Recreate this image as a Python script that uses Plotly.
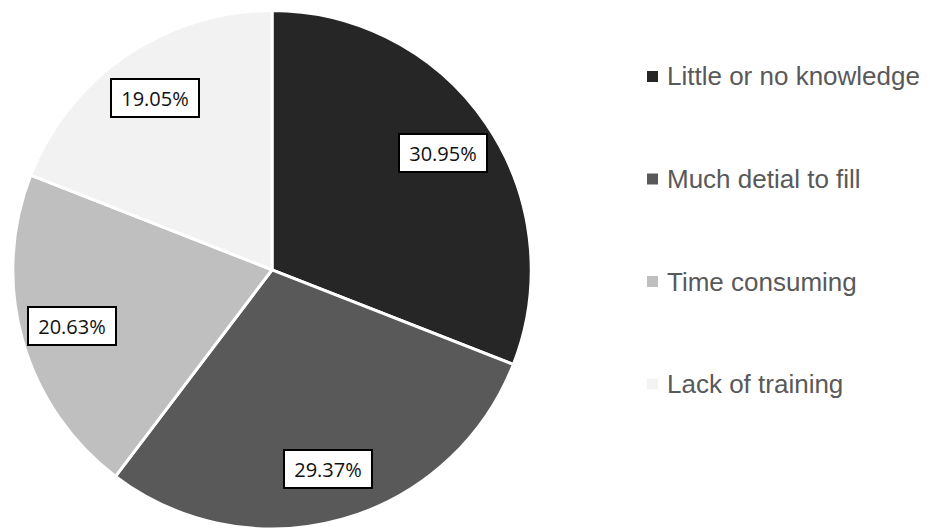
import math
import plotly.graph_objects as go

labels = ["Little or no knowledge", "Much detial to fill", "Time consuming", "Lack of training"]
values = [30.95, 29.37, 20.63, 19.05]
colors = ["#262626", "#595959", "#bfbfbf", "#f2f2f2"]

W, H = 930, 529
dom_x = [0.0, 0.585]
dom_y = [0.0, 0.98]

fig = go.Figure()
fig.add_trace(go.Pie(
    labels=labels, values=values, sort=False, direction="clockwise", rotation=0,
    marker=dict(colors=colors, line=dict(color="white", width=3)),
    textinfo="none", hoverinfo="label+percent", showlegend=False,
    domain=dict(x=dom_x, y=dom_y),
))

# pie geometry in pixels (for placing the boxed labels)
cx = (dom_x[0] + dom_x[1]) / 2 * W
cy = (dom_y[0] + dom_y[1]) / 2 * H
r = min((dom_x[1] - dom_x[0]) * W, (dom_y[1] - dom_y[0]) * H) / 2
total = sum(values)
cum = 0.0
for v in values:
    mid = (cum + v / 2) / total * 2 * math.pi
    cum += v
    px = cx + 0.8 * r * math.sin(mid)
    py = cy + 0.8 * r * math.cos(mid)
    fig.add_annotation(
        x=px / W, y=py / H, xref="paper", yref="paper", showarrow=False,
        xanchor="center", yanchor="middle",
        text=f"{v:.2f}%", font=dict(family="Open Sans, Noto Sans, sans-serif", size=20, color="#111111"),
        bgcolor="white", bordercolor="black", borderwidth=2, borderpad=4,
        width=78, height=28,
    )

# manual legend
leg_y = [76.5, 179, 281.5, 384]
for lab, col, y in zip(labels, colors, leg_y):
    yp = 1 - y / H
    fig.add_shape(type="rect", xref="paper", yref="paper",
                  x0=647 / W, x1=658 / W, y0=yp - 5.5 / H, y1=yp + 5.5 / H,
                  fillcolor=col, line=dict(width=0))
    fig.add_annotation(x=665 / W, y=yp, xref="paper", yref="paper", showarrow=False,
                       xanchor="left", yanchor="middle", text=lab,
                       font=dict(family="Liberation Sans Narrow, Arial Narrow, Liberation Sans, sans-serif",
                                 size=26, color="#595959"))

fig.update_layout(
    width=W, height=H, margin=dict(l=0, r=0, t=0, b=0),
    paper_bgcolor="white", plot_bgcolor="white",
)
fig.write_html("out.html", config={"displayModeBar": False},
               post_script="document.body.style.margin='0px';")
